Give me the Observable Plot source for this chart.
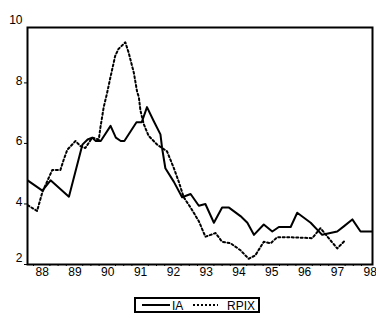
<!DOCTYPE html>
<html><head><meta charset="utf-8">
<script src="https://cdn.jsdelivr.net/npm/d3@7"></script>
<script src="https://cdn.jsdelivr.net/npm/@observablehq/plot@0.6"></script>
<style>
body{margin:0;background:#fff;font-family:"Liberation Sans",Arial,sans-serif;}
#legend{margin-left:134px;margin-top:12px;display:block;}
</style></head><body><div id="chart"></div>
<svg id="legend" width="126" height="17"></svg>
<script>
const seriesNames = ["IA", "RPIX"];
const iaYears = [1987.82,1988.27,1988.52,1989.08,1989.49,1989.65,1989.79,1989.90,1990.05,1990.35,1990.51,1990.66,1990.77,1991.14,1991.30,1991.46,1991.66,1991.87,1991.92,1992.02,1992.28,1992.53,1992.79,1993.04,1993.24,1993.50,1993.75,1993.96,1994.31,1994.52,1994.72,1995.02,1995.28,1995.48,1995.84,1996.04,1996.45,1996.80,1997.26,1997.46,1997.72,1997.97,1998.33];
const iaValues = [4.78,4.44,4.78,4.24,5.96,6.13,6.19,6.08,6.08,6.58,6.19,6.08,6.08,6.70,6.70,7.20,6.75,6.30,5.85,5.18,4.73,4.22,4.33,3.94,4.00,3.38,3.88,3.88,3.60,3.38,2.98,3.32,3.09,3.24,3.24,3.71,3.38,2.98,3.09,3.26,3.49,3.09,3.09];
const rpixYears = [1987.82,1988.11,1988.27,1988.57,1988.82,1988.92,1989.03,1989.28,1989.43,1989.58,1989.79,1989.99,1990.04,1990.09,1990.14,1990.24,1990.34,1990.49,1990.59,1990.80,1990.90,1991.06,1991.16,1991.21,1991.26,1991.36,1991.51,1991.77,1992.07,1992.28,1992.43,1992.58,1992.79,1993.04,1993.24,1993.40,1993.55,1993.75,1994.01,1994.31,1994.56,1994.76,1995.02,1995.23,1995.43,1995.84,1996.50,1996.75,1997.00,1997.26,1997.51];
const rpixValues = [3.96,3.77,4.39,5.12,5.12,5.46,5.79,6.08,5.91,5.85,6.19,6.13,6.53,6.86,7.20,7.65,8.16,8.89,9.12,9.34,9.00,8.33,7.70,7.54,7.09,6.64,6.25,5.96,5.74,5.18,4.73,4.22,3.88,3.43,2.92,2.98,3.04,2.75,2.70,2.47,2.19,2.30,2.75,2.70,2.90,2.90,2.87,3.20,2.87,2.53,2.81];
const yTickValues = [2,4,6,8,10];
const yearTicks = [1988,1989,1990,1991,1992,1993,1994,1995,1996,1997,1998];
const yearLabels = ["88","89","90","91","92","93","94","95","96","97","98"];

const ia = iaYears.map((x,i)=>({x, y: iaValues[i]}));
const rpix = rpixYears.map((x,i)=>({x, y: rpixValues[i]}));
const minorTicks = [];
yearTicks.forEach(y => { [0,0.5,0.75].forEach(q => { if (y+q <= 1998.3) minorTicks.push(y+q); }); });

const chart = Plot.plot({
  width: 376, height: 285,
  marginTop: 27, marginBottom: 21, marginLeft: 27, marginRight: 4,
  style: {fontFamily: '"Liberation Sans", Arial, sans-serif', fontSize: "12px", color: "#000", background: "#fff"},
  x: {domain: [1987.817, 1998.335]},
  y: {domain: [2, 9.83]},
  marks: [
    Plot.line(ia, {x: "x", y: "y", stroke: "#000", strokeWidth: 2, clip: true}),
    Plot.line(rpix, {x: "x", y: "y", stroke: "#000", strokeWidth: 2, strokeDasharray: "2,2.5", clip: true}),
    Plot.frame({stroke: "#000", strokeWidth: 2}),
    Plot.axisY({ticks: yTickValues.slice(0,4), tickSize: 3, tickFormat: () => "", label: null}),
    Plot.axisY({ticks: yTickValues.slice(1), tickSize: 0, tickPadding: 5, dy: -2, label: null, fontSize: 12}),
    Plot.axisY({ticks: yTickValues.slice(0,1), tickSize: 0, tickPadding: 5, dy: -6, label: null, fontSize: 12}),
    Plot.axisX({ticks: minorTicks, tickSize: 2, tickFormat: () => "", label: null}),
    Plot.axisX({ticks: yearTicks, tickSize: 0, tickPadding: 3, textAnchor: "start", dx: 2, label: null, fontSize: 12,
      tickFormat: d => yearLabels[yearTicks.indexOf(d)]})
  ]
});
document.getElementById("chart").appendChild(chart);

const lg = d3.select("#legend");
lg.append("rect").attr("x",1).attr("y",1).attr("width",124).attr("height",14).attr("fill","#fff").attr("stroke","#000").attr("stroke-width",2);
lg.append("line").attr("x1",8).attr("x2",36).attr("y1",8).attr("y2",8).attr("stroke","#000").attr("stroke-width",2);
lg.append("text").attr("x",38).attr("y",12.5).text(seriesNames[0]).attr("font-size",12).attr("font-family",'"Liberation Sans", Arial, sans-serif');
lg.append("line").attr("x1",59).attr("x2",84).attr("y1",8).attr("y2",8).attr("stroke","#000").attr("stroke-width",2).attr("stroke-dasharray","2,2");
lg.append("text").attr("x",93).attr("y",12.5).text(seriesNames[1]).attr("font-size",12).attr("font-family",'"Liberation Sans", Arial, sans-serif');
</script>
</body></html>
